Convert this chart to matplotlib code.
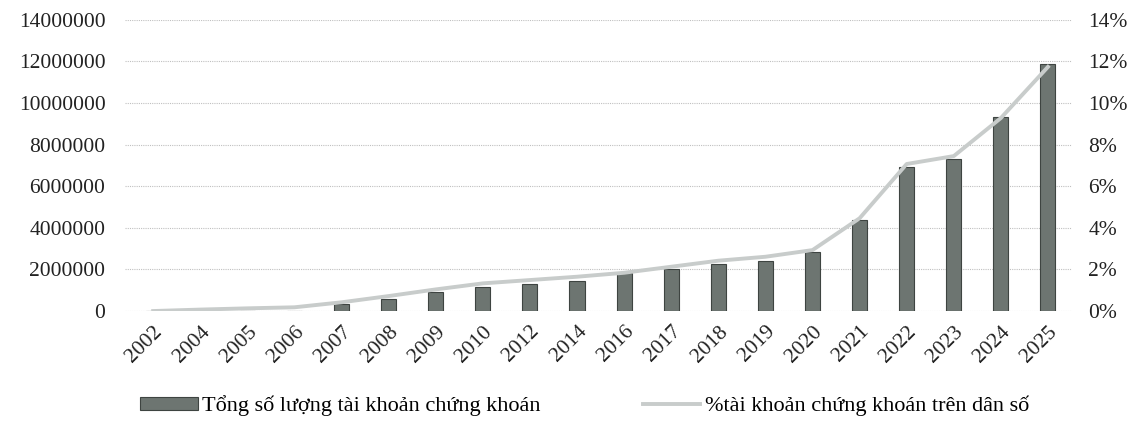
import numpy as np
import matplotlib
matplotlib.use("Agg")
from matplotlib import pyplot as plt
from matplotlib.ticker import FuncFormatter, MultipleLocator

years = ["2002", "2004", "2005", "2006", "2007", "2008", "2009", "2010", "2012", "2014",
         "2016", "2017", "2018", "2019", "2020", "2021", "2022", "2023", "2024", "2025"]
accounts = [2000, 5000, 10000, 20000, 350000, 580000, 900000, 1140000, 1300000, 1440000,
            1810000, 2000000, 2250000, 2420000, 2840000, 4380000, 6940000, 7320000, 9310000, 11860000]
pct = [0.0, 0.07, 0.13, 0.18, 0.42, 0.72, 1.04, 1.33, 1.49, 1.65,
       1.84, 2.13, 2.42, 2.61, 2.93, 4.46, 7.07, 7.45, 9.28, 11.74]

bar_label = "Tổng số lượng tài khoản chứng khoán"
line_label = "%tài khoản chứng khoán trên dân số"

plt.rcParams['font.family'] = ['Liberation Serif', 'DejaVu Serif']

fig = plt.figure(figsize=(11.46, 4.32), dpi=100)
ax = fig.add_axes([0.109, 0.28, 0.826, 0.674])
x = np.arange(len(years))

ax.bar(x, accounts, width=0.32, color="#6d7571", edgecolor="#3e4441", linewidth=0.8,
       label=bar_label, zorder=2)
ax.set_ylim(0, 14000000)
ax.yaxis.set_major_locator(MultipleLocator(2000000))
ax.yaxis.set_major_formatter(FuncFormatter(lambda v, p: "%d" % v))
ax.grid(axis="y", linestyle=(0, (1, 1)), color="#c0c0c0", linewidth=0.8, zorder=0)
ax.set_xlim(-0.6, len(years) - 0.5)
ax.set_xticks(x)
ax.set_xticklabels(years, rotation=45, ha="right", rotation_mode="anchor")
ax.tick_params(axis="both", length=0, labelsize=15.5, colors="#222222")
ax.tick_params(axis="x", pad=8)
ax.tick_params(axis="y", pad=14)
for s in ax.spines.values():
    s.set_visible(False)

ax2 = ax.twinx()
ax2.plot(x, pct, color="#c8cccb", linewidth=2.8, label=line_label, zorder=3)
ax2.set_ylim(0, 14)
ax2.yaxis.set_major_locator(MultipleLocator(2))
ax2.yaxis.set_major_formatter(FuncFormatter(lambda v, p: "%d%%" % v))
ax2.tick_params(axis="y", length=0, labelsize=15.5, colors="#222222", pad=12)
for s in ax2.spines.values():
    s.set_visible(False)

h1, l1 = ax.get_legend_handles_labels()
h2, l2 = ax2.get_legend_handles_labels()
fig.legend(h1 + h2, l1 + l2, loc="lower center", bbox_to_anchor=(0.51, -0.01), ncol=2,
           frameon=False, fontsize=16, handlelength=2.6, handleheight=0.55,
           columnspacing=4.6, handletextpad=0.2)

fig.savefig("out.png", dpi=100)
